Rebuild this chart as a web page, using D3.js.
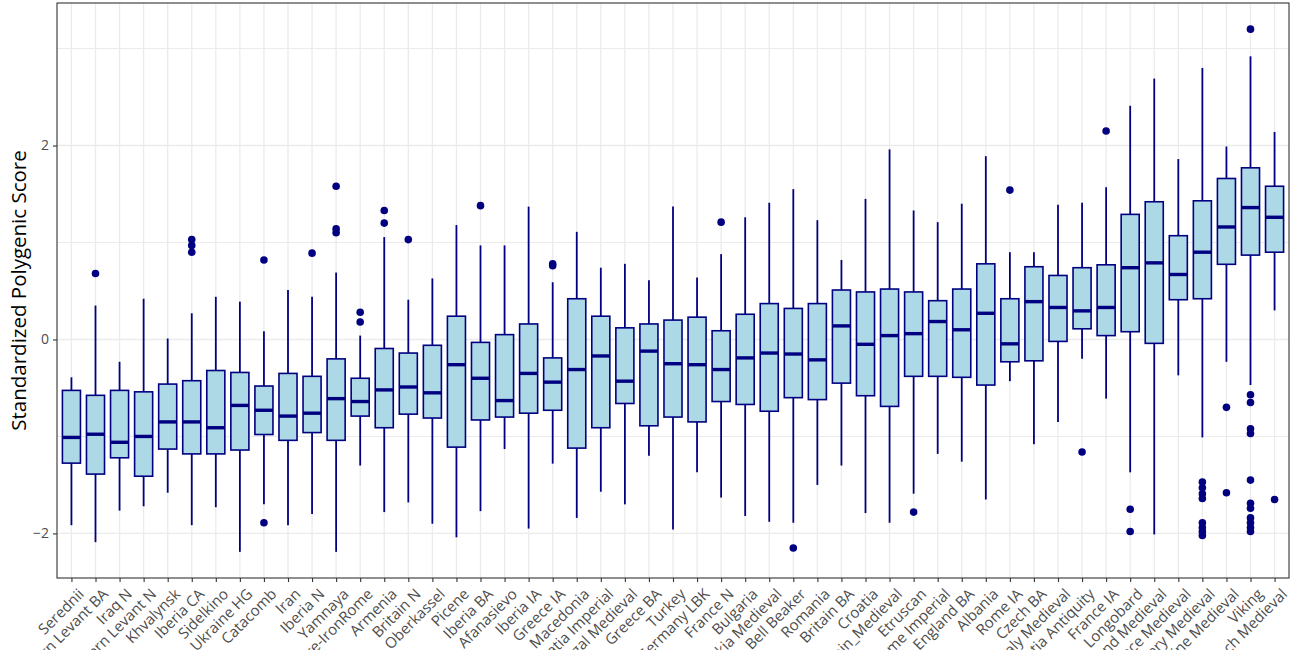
<!DOCTYPE html>
<html>
<head>
<meta charset="utf-8">
<script src="https://cdn.jsdelivr.net/npm/d3@7"></script>
<style>
  html, body { margin: 0; padding: 0; background: #fff; overflow: hidden; }
  svg { display: block; font-family: "Open Sans", "Noto Sans", sans-serif; }
</style>
</head>
<body>
<svg id="chart" width="1300" height="650"></svg>
<script>
const categories = ["Serednii","Southern Levant BA","Iraq N","Northern Levant N","Khvalynsk","Iberia CA","Sidelkino","Ukraine HG","Catacomb","Iran","Iberia N","Yamnaya","Pre-IronRome","Armenia","Britain N","Oberkassel","Picene","Iberia BA","Afanasievo","Iberia IA","Greece IA","Macedonia","Dalmatia Imperial","Portugal Medieval","Greece BA","Turkey","Germany LBK","France N","Bulgaria","Slovakia Medieval","Bell Beaker","Romania","Britain BA","Croatia","Britain_Medieval","Etruscan","Rome Imperial","England BA","Albania","Rome IA","Czech BA","Italy Medieval","Dalmatia Antiquity","France IA","Longobard","Poland Medieval","France Medieval","Hungary Medieval","Ukraine Medieval","Viking","Czech Medieval"];

const whiskerLow = [-1.915,-2.09,-1.765,-1.72,-1.58,-1.915,-1.73,-2.19,-1.70,-1.915,-1.80,-2.19,-1.30,-1.78,-1.68,-1.90,-2.04,-1.77,-1.13,-1.95,-1.28,-1.84,-1.57,-1.70,-1.20,-1.96,-1.37,-1.63,-1.82,-1.88,-1.89,-1.50,-1.30,-1.79,-1.89,-1.59,-1.18,-1.26,-1.65,-0.43,-1.08,-0.85,-0.20,-0.61,-1.37,-2.01,-0.37,-1.01,-0.23,-0.47,0.30];
const q1 = [-1.275,-1.388,-1.22,-1.41,-1.13,-1.18,-1.18,-1.14,-0.98,-1.04,-0.96,-1.04,-0.79,-0.91,-0.77,-0.81,-1.11,-0.83,-0.80,-0.76,-0.73,-1.12,-0.91,-0.66,-0.89,-0.80,-0.85,-0.64,-0.67,-0.74,-0.60,-0.62,-0.45,-0.58,-0.69,-0.38,-0.38,-0.39,-0.47,-0.23,-0.22,-0.02,0.11,0.04,0.08,-0.04,0.41,0.42,0.775,0.87,0.90];
const median = [-1.01,-0.977,-1.06,-1.00,-0.85,-0.85,-0.91,-0.68,-0.73,-0.79,-0.76,-0.61,-0.64,-0.52,-0.49,-0.55,-0.26,-0.40,-0.63,-0.35,-0.44,-0.31,-0.17,-0.43,-0.12,-0.25,-0.26,-0.31,-0.19,-0.14,-0.15,-0.21,0.14,-0.05,0.04,0.06,0.185,0.10,0.27,-0.045,0.39,0.33,0.295,0.33,0.74,0.79,0.67,0.90,1.16,1.36,1.26];
const q3 = [-0.525,-0.576,-0.525,-0.54,-0.46,-0.425,-0.32,-0.34,-0.48,-0.35,-0.38,-0.20,-0.40,-0.093,-0.14,-0.06,0.24,-0.03,0.05,0.16,-0.19,0.42,0.24,0.12,0.16,0.20,0.23,0.09,0.26,0.37,0.32,0.37,0.51,0.49,0.52,0.49,0.40,0.52,0.78,0.42,0.75,0.66,0.74,0.77,1.29,1.42,1.07,1.43,1.66,1.77,1.58];
const whiskerHigh = [-0.39,0.35,-0.23,0.42,0.01,0.27,0.44,0.39,0.085,0.51,0.44,0.69,0.04,1.056,0.41,0.63,1.18,0.97,0.97,1.37,0.59,1.11,0.74,0.78,0.61,1.37,0.64,0.88,1.26,1.41,1.55,1.23,0.82,1.45,1.96,1.33,1.21,1.40,1.89,0.90,0.90,1.39,1.41,1.57,2.41,2.69,1.86,2.80,1.99,2.92,2.14];
const outliers = [
  [],[0.68],[],[],[],[1.03,0.97,0.90],[],[],[0.82,-1.89],[],[0.89],[1.58,1.14,1.10],[0.28,0.18],
  [1.33,1.20],[1.03],[],[],[1.38],[],[],[0.78,0.76],[],[],[],[],[],[],[1.21],[],[],[-2.15],[],[],[],[],[-1.78],[],[],[],[1.54],
  [],[],[-1.16],[2.15],[-1.75,-1.98],[],[],
  [-1.47,-1.53,-1.59,-1.64,-1.89,-1.94,-1.98,-2.02],
  [-0.70,-1.58],
  [3.20,-0.57,-0.65,-0.92,-0.97,-1.45,-1.69,-1.74,-1.84,-1.89,-1.94,-1.98],
  [-1.65]
];
const yTicks = [-2, 0, 2];
const yMinor = [-1, 1, 3];
const yTitle = "Standardized Polygenic Score";

const rows = categories.map((c, i) => ({
  cat: c, lo: whiskerLow[i], q1: q1[i], med: median[i], q3: q3[i], hi: whiskerHigh[i], out: outliers[i]
}));

const margin = {left: 57, right: 11, top: 3, bottom: 72};
const W = 1300, H = 650;
const svg = d3.select("#chart");

const allVals = rows.flatMap(r => [r.lo, r.hi, ...r.out]);
const [mn, mx] = d3.extent(allVals);
const pad = (mx - mn) * 0.05;

const x = d3.scalePoint().domain(categories).range([margin.left, W - margin.right]).padding(0.6);
const y = d3.scaleLinear().domain([mn - pad, mx + pad]).range([H - margin.bottom, margin.top]);
const bw = x.step() * 0.75;

const x0 = margin.left, x1 = W - margin.right, yTop = margin.top, yBot = H - margin.bottom;

// grid
const g = svg.append("g");
g.selectAll(".minor").data(yMinor).join("line")
  .attr("x1", x0).attr("x2", x1).attr("y1", d => y(d)).attr("y2", d => y(d))
  .attr("stroke", "#ebebeb").attr("stroke-width", 1);
g.selectAll(".major").data(yTicks).join("line")
  .attr("x1", x0).attr("x2", x1).attr("y1", d => y(d)).attr("y2", d => y(d))
  .attr("stroke", "#ebebeb").attr("stroke-width", 1.3);
g.selectAll(".vmajor").data(categories).join("line")
  .attr("x1", d => x(d)).attr("x2", d => x(d)).attr("y1", yTop).attr("y2", yBot)
  .attr("stroke", "#ebebeb").attr("stroke-width", 1.3);

// boxes
const navy = "#000080";
const bx = svg.append("g").selectAll("g").data(rows).join("g");
bx.append("line")
  .attr("x1", d => x(d.cat)).attr("x2", d => x(d.cat))
  .attr("y1", d => y(d.hi)).attr("y2", d => y(d.q3))
  .attr("stroke", navy).attr("stroke-width", 1.8);
bx.append("line")
  .attr("x1", d => x(d.cat)).attr("x2", d => x(d.cat))
  .attr("y1", d => y(d.q1)).attr("y2", d => y(d.lo))
  .attr("stroke", navy).attr("stroke-width", 1.8);
bx.append("rect")
  .attr("x", d => x(d.cat) - bw / 2).attr("width", bw)
  .attr("y", d => y(d.q3)).attr("height", d => y(d.q1) - y(d.q3))
  .attr("fill", "#add8e6").attr("stroke", navy).attr("stroke-width", 1.6);
bx.append("line")
  .attr("x1", d => x(d.cat) - bw / 2).attr("x2", d => x(d.cat) + bw / 2)
  .attr("y1", d => y(d.med)).attr("y2", d => y(d.med))
  .attr("stroke", navy).attr("stroke-width", 3.4);
bx.selectAll("circle").data(d => d.out.map(v => ({cat: d.cat, v}))).join("circle")
  .attr("cx", d => x(d.cat)).attr("cy", d => y(d.v)).attr("r", 3.8)
  .attr("fill", navy);

// panel border
svg.append("rect").attr("x", x0).attr("y", yTop).attr("width", x1 - x0).attr("height", yBot - yTop)
  .attr("fill", "none").attr("stroke", "#333333").attr("stroke-width", 1.1);

// y axis
const ya = svg.append("g").attr("transform", `translate(${x0},0)`)
  .call(d3.axisLeft(y).tickValues(yTicks).tickSize(4).tickFormat(d3.format("d")).tickPadding(4));
ya.select(".domain").remove();
ya.selectAll(".tick line").attr("stroke", "#333333").attr("stroke-width", 1.1);
ya.selectAll(".tick text").attr("fill", "#4d4d4d").style("font-size", "14px")
  .style("font-family", "'Open Sans', 'Noto Sans', sans-serif");

// x axis
const xa = svg.append("g").attr("transform", `translate(0,${yBot})`)
  .call(d3.axisBottom(x).tickSize(4).tickPadding(3));
xa.select(".domain").remove();
xa.selectAll(".tick line").attr("stroke", "#333333").attr("stroke-width", 1.1);
xa.selectAll(".tick text")
  .attr("fill", "#4d4d4d").style("font-size", "15px")
  .style("font-family", "'Open Sans', 'Noto Sans', sans-serif")
  .attr("text-anchor", "end").attr("dy", null).attr("y", 0)
  .attr("transform", "translate(4,8) rotate(-45)")
  .attr("dominant-baseline", "hanging");

// y title
svg.append("text")
  .attr("transform", `translate(18,${(yTop + yBot) / 2}) rotate(-90)`)
  .attr("text-anchor", "middle").attr("dominant-baseline", "central")
  .style("font-size", "20.5px").attr("fill", "#000")
  .text(yTitle);
</script>
</body>
</html>
